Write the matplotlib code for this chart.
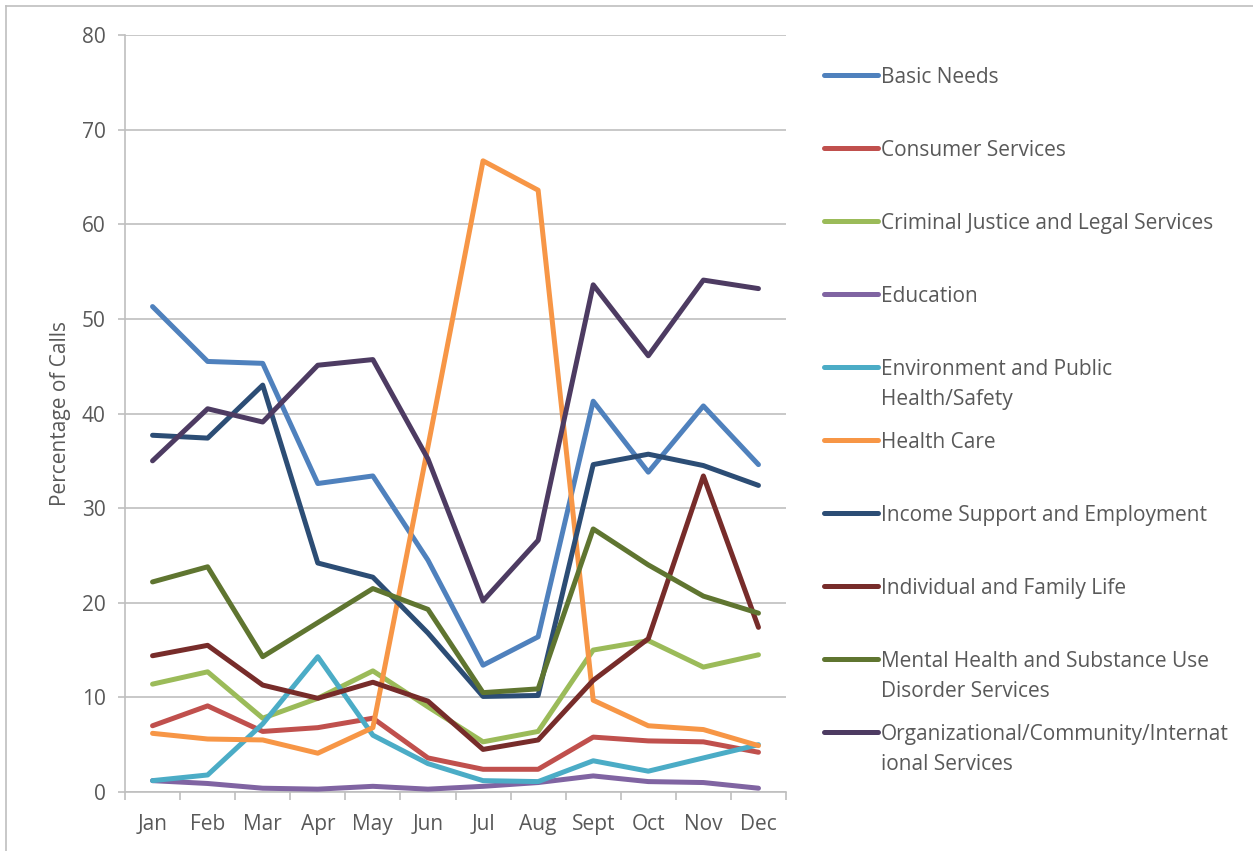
import matplotlib
matplotlib.use('Agg')
import matplotlib.pyplot as plt
from matplotlib.lines import Line2D

plt.rcParams['font.family'] = ['Open Sans', 'DejaVu Sans']

months = ['Jan', 'Feb', 'Mar', 'Apr', 'May', 'Jun', 'Jul', 'Aug', 'Sept', 'Oct', 'Nov', 'Dec']

basic_needs = [51.3, 45.5, 45.3, 32.6, 33.4, 24.5, 13.4, 16.4, 41.3, 33.8, 40.8, 34.6]
consumer = [7.0, 9.1, 6.4, 6.8, 7.8, 3.6, 2.4, 2.4, 5.8, 5.4, 5.3, 4.2]
criminal = [11.4, 12.7, 7.8, 9.9, 12.8, 9.0, 5.3, 6.4, 15.0, 16.0, 13.2, 14.5]
education = [1.2, 0.9, 0.4, 0.3, 0.6, 0.3, 0.6, 1.0, 1.7, 1.1, 1.0, 0.4]
environment = [1.2, 1.8, 7.2, 14.3, 6.0, 3.0, 1.2, 1.1, 3.3, 2.2, 3.6, 5.0]
health_care = [6.2, 5.6, 5.5, 4.1, 6.8, 36.5, 66.7, 63.6, 9.7, 7.0, 6.6, 4.9]
income = [37.7, 37.4, 43.0, 24.2, 22.7, 16.8, 10.1, 10.2, 34.6, 35.7, 34.5, 32.4]
individual = [14.4, 15.5, 11.3, 9.9, 11.6, 9.6, 4.5, 5.5, 11.8, 16.2, 33.4, 17.4]
mental = [22.2, 23.8, 14.3, 17.9, 21.5, 19.3, 10.5, 10.9, 27.8, 24.0, 20.7, 18.9]
organizational = [35.0, 40.5, 39.1, 45.1, 45.7, 35.2, 20.2, 26.6, 53.6, 46.1, 54.1, 53.2]

series = [
    ('Basic Needs', basic_needs, '#4F81BD'),
    ('Consumer Services', consumer, '#C0504D'),
    ('Criminal Justice and Legal Services', criminal, '#9BBB59'),
    ('Education', education, '#8064A2'),
    ('Environment and Public\nHealth/Safety', environment, '#4BACC6'),
    ('Health Care', health_care, '#F79646'),
    ('Income Support and Employment', income, '#2C4D75'),
    ('Individual and Family Life', individual, '#772C2A'),
    ('Mental Health and Substance Use\nDisorder Services', mental, '#5F7530'),
    ('Organizational/Community/Internat\nional Services', organizational, '#4D3B62'),
]

W, H = 1253, 851
fig = plt.figure(figsize=(W / 100, H / 100), dpi=100)
ax = fig.add_axes([125 / W, (H - 792) / H, (786 - 125) / W, (792 - 35) / H])

x = list(range(len(months)))
text_color = '#595959'
grid_color = '#BFBFBF'
fs = 15

for label, vals, color in series:
    ax.plot(x, vals, color=color, lw=3.6, solid_capstyle='round',
            solid_joinstyle='round', zorder=3)

ax.set_xlim(-0.5, len(months) - 0.5)
ax.set_ylim(0, 80)
ax.set_yticks(range(0, 81, 10))
ax.set_xticks(x)
ax.set_xticklabels(months)
ax.set_xticks([i - 0.5 for i in range(len(months) + 1)], minor=True)
ax.tick_params(axis='x', which='major', length=0, pad=16, labelsize=fs, colors=text_color)
ax.tick_params(axis='x', which='minor', length=6, color=grid_color, width=1.2)
ax.tick_params(axis='y', length=5, color=grid_color, width=1.2, labelsize=fs,
               colors=text_color, pad=9)
ax.grid(axis='y', color=grid_color, lw=1.2, zorder=0)
for s in ['top', 'right']:
    ax.spines[s].set_visible(False)
for s in ['left', 'bottom']:
    ax.spines[s].set_color(grid_color)
    ax.spines[s].set_linewidth(1.2)
ax.set_ylabel('Percentage of Calls', fontsize=fs, color=text_color, labelpad=8)

# chart area border (only top and left visible in the crop)
fig.add_artist(Line2D([6 / W, 6 / W], [0, (H - 6) / H], color='#BFBFBF', lw=1.2,
                      transform=fig.transFigure))
fig.add_artist(Line2D([6 / W, 1], [(H - 6) / H, (H - 6) / H], color='#BFBFBF', lw=1.2,
                      transform=fig.transFigure))

# legend drawn by hand to get Excel-style even spacing
for i, (label, vals, color) in enumerate(series):
    yp = 75 + i * 73
    yf = (H - yp) / H
    fig.add_artist(Line2D([824 / W, 878 / W], [yf, yf], color=color, lw=3.6,
                          solid_capstyle='round', transform=fig.transFigure))
    fig.text(881 / W, (H - yp + 8) / H, label, fontsize=fs, color=text_color,
             ha='left', va='top', linespacing=1.55)

fig.savefig('out.png', dpi=100)
